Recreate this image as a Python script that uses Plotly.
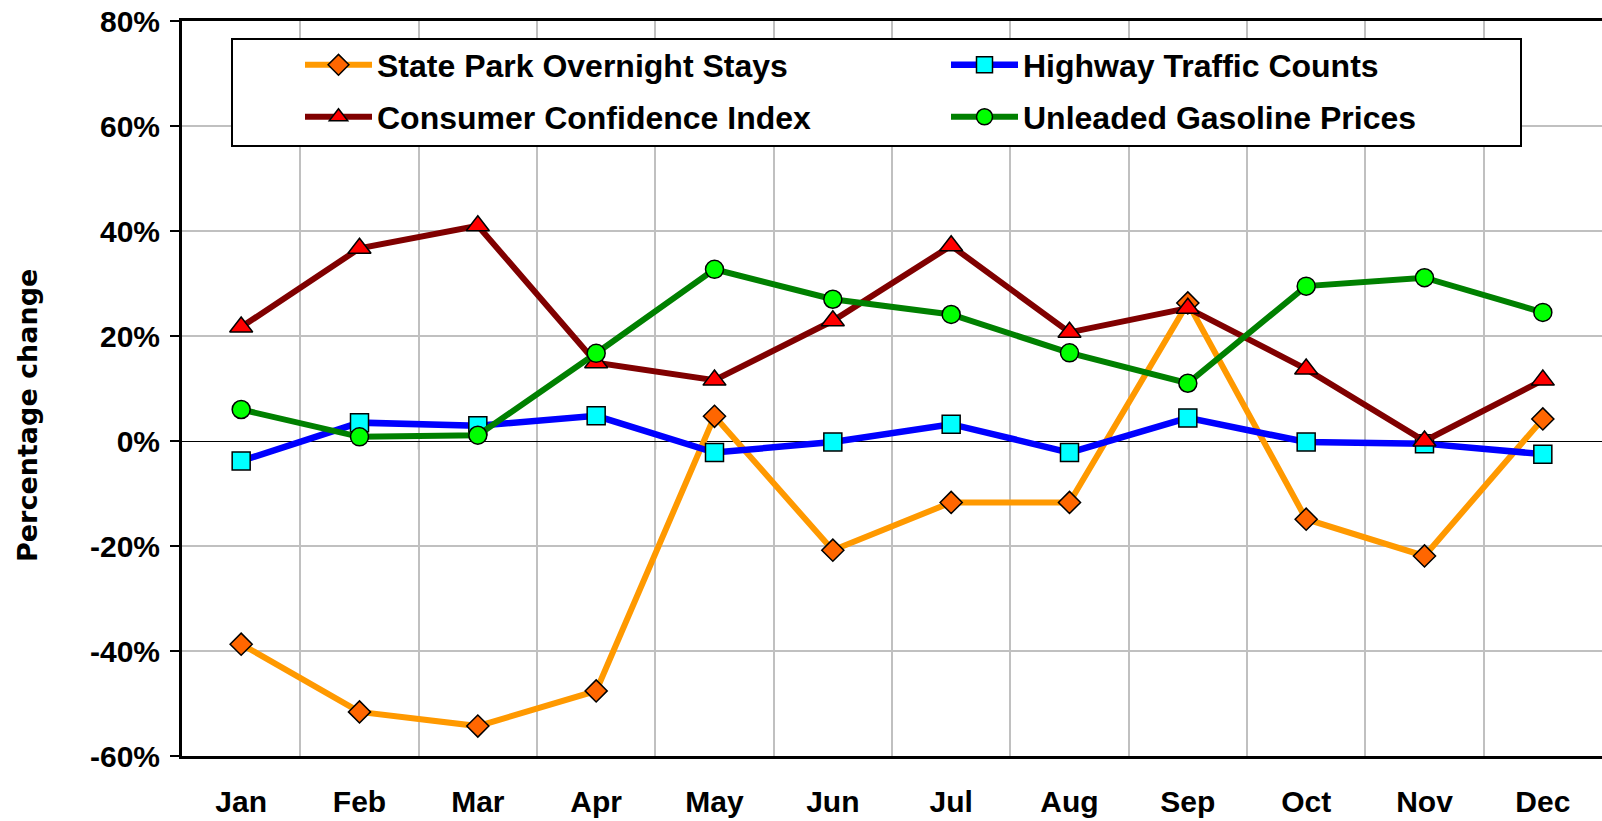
import plotly.graph_objects as go

months = ['Jan', 'Feb', 'Mar', 'Apr', 'May', 'Jun', 'Jul', 'Aug', 'Sep', 'Oct', 'Nov', 'Dec']
state_park = [-38.7, -51.6, -54.3, -47.6, 4.7, -20.8, -11.7, -11.7, 26.3, -14.9, -21.9, 4.2]
highway = [-3.8, 3.5, 2.9, 4.8, -2.2, -0.2, 3.2, -2.2, 4.4, -0.2, -0.5, -2.5]
consumer = [21.7, 36.7, 41.0, 14.9, 11.6, 22.9, 37.2, 20.7, 25.3, 13.7, 0.0, 11.6]
gasoline = [6.0, 0.8, 1.1, 16.7, 32.7, 27.0, 24.1, 16.8, 11.0, 29.5, 31.1, 24.5]
y_ticks = [-60, -40, -20, 0, 20, 40, 60, 80]
y_tick_text = [f'{v}%' for v in y_ticks]

W, H = 1602, 821
L, R, T, B = 182, 0, 21, 65
PW, PH = W - L - R, H - T - B

def px_x(p):
    return (p - L) / PW

def px_y(p):
    return 1 - (p - T) / PH

FONT = 'Liberation Sans, Arial, sans-serif'

fig = go.Figure()

series = [
    ('State Park Overnight Stays', state_park, '#FF9900', '#FF6600', 'diamond', 17, 6, 'legend'),
    ('Highway Traffic Counts', highway, '#0000FF', '#00FFFF', 'square', 18, 6.5, 'legend'),
    ('Consumer Confidence Index', consumer, '#800000', '#FF0000', 'triangle-up', 20, 6, 'legend2'),
    ('Unleaded Gasoline Prices', gasoline, '#008000', '#00FF00', 'circle', 18, 6, 'legend2'),
]
for name, vals, lc, mc, sym, size, lw, lg in series:
    fig.add_trace(go.Scatter(
        x=months, y=vals, name=name, mode='lines+markers',
        line=dict(color=lc, width=lw),
        marker=dict(symbol=sym, size=size, color=mc, line=dict(color='black', width=1.5)),
        legend=lg,
    ))

shapes = []
# legend box
shapes.append(dict(type='rect', xref='paper', yref='paper',
                   x0=px_x(232), x1=px_x(1521), y0=px_y(146), y1=px_y(39),
                   fillcolor='white', line=dict(color='black', width=2), layer='above'))
# small tick marks on the zero line at category boundaries
for i in range(len(months) - 1):
    shapes.append(dict(type='line', xref='x', yref='y', x0=i + 0.5, x1=i + 0.5,
                       y0=0, y1=-1.6, line=dict(color='black', width=1.5), layer='below'))

legend_common = dict(orientation='h', xanchor='left', yanchor='middle',
                     bgcolor='rgba(0,0,0,0)', borderwidth=0,
                     font=dict(family=FONT, size=32, color='black', weight='bold'),
                     itemwidth=67, entrywidth=564, entrywidthmode='pixels',
                     traceorder='normal')

fig.update_layout(
    width=W, height=H,
    margin=dict(l=L, r=R, t=T, b=B),
    paper_bgcolor='white', plot_bgcolor='white',
    showlegend=True,
    legend=dict(x=px_x(300), y=px_y(65), **legend_common),
    legend2=dict(x=px_x(300), y=px_y(117), **legend_common),
    shapes=shapes,
    xaxis=dict(
        type='category', categoryorder='array', categoryarray=months,
        range=[-0.5, len(months) - 0.5],
        tickson='boundaries', ticks='', showgrid=True,
        gridcolor='#C0C0C0', gridwidth=2,
        showline=True, linecolor='black', linewidth=3, mirror=True,
        tickfont=dict(family=FONT, size=30, color='black', weight='bold'),
        ticklabelstandoff=17,
    ),
    yaxis=dict(
        range=[-60, 80], tickvals=y_ticks, ticktext=y_tick_text,
        showgrid=True, gridcolor='#C0C0C0', gridwidth=2,
        zeroline=True, zerolinecolor='black', zerolinewidth=1,
        showline=True, linecolor='black', linewidth=3,
        ticks='outside', ticklen=9, tickwidth=2, tickcolor='black',
        tickfont=dict(family=FONT, size=30, color='black', weight='bold'),
        ticklabelstandoff=4,
    ),
    annotations=[dict(
        text='Percentage change', xref='paper', yref='paper',
        x=px_x(27), y=px_y(416), xanchor='center', yanchor='middle',
        textangle=-90, showarrow=False,
        font=dict(family='DejaVu Sans, Verdana, sans-serif', size=27, color='black', weight='bold'),
    )],
)

fig.write_html('out.html', config={'displayModeBar': False},
               post_script="document.body.style.margin='0';document.body.style.overflow='hidden';")
